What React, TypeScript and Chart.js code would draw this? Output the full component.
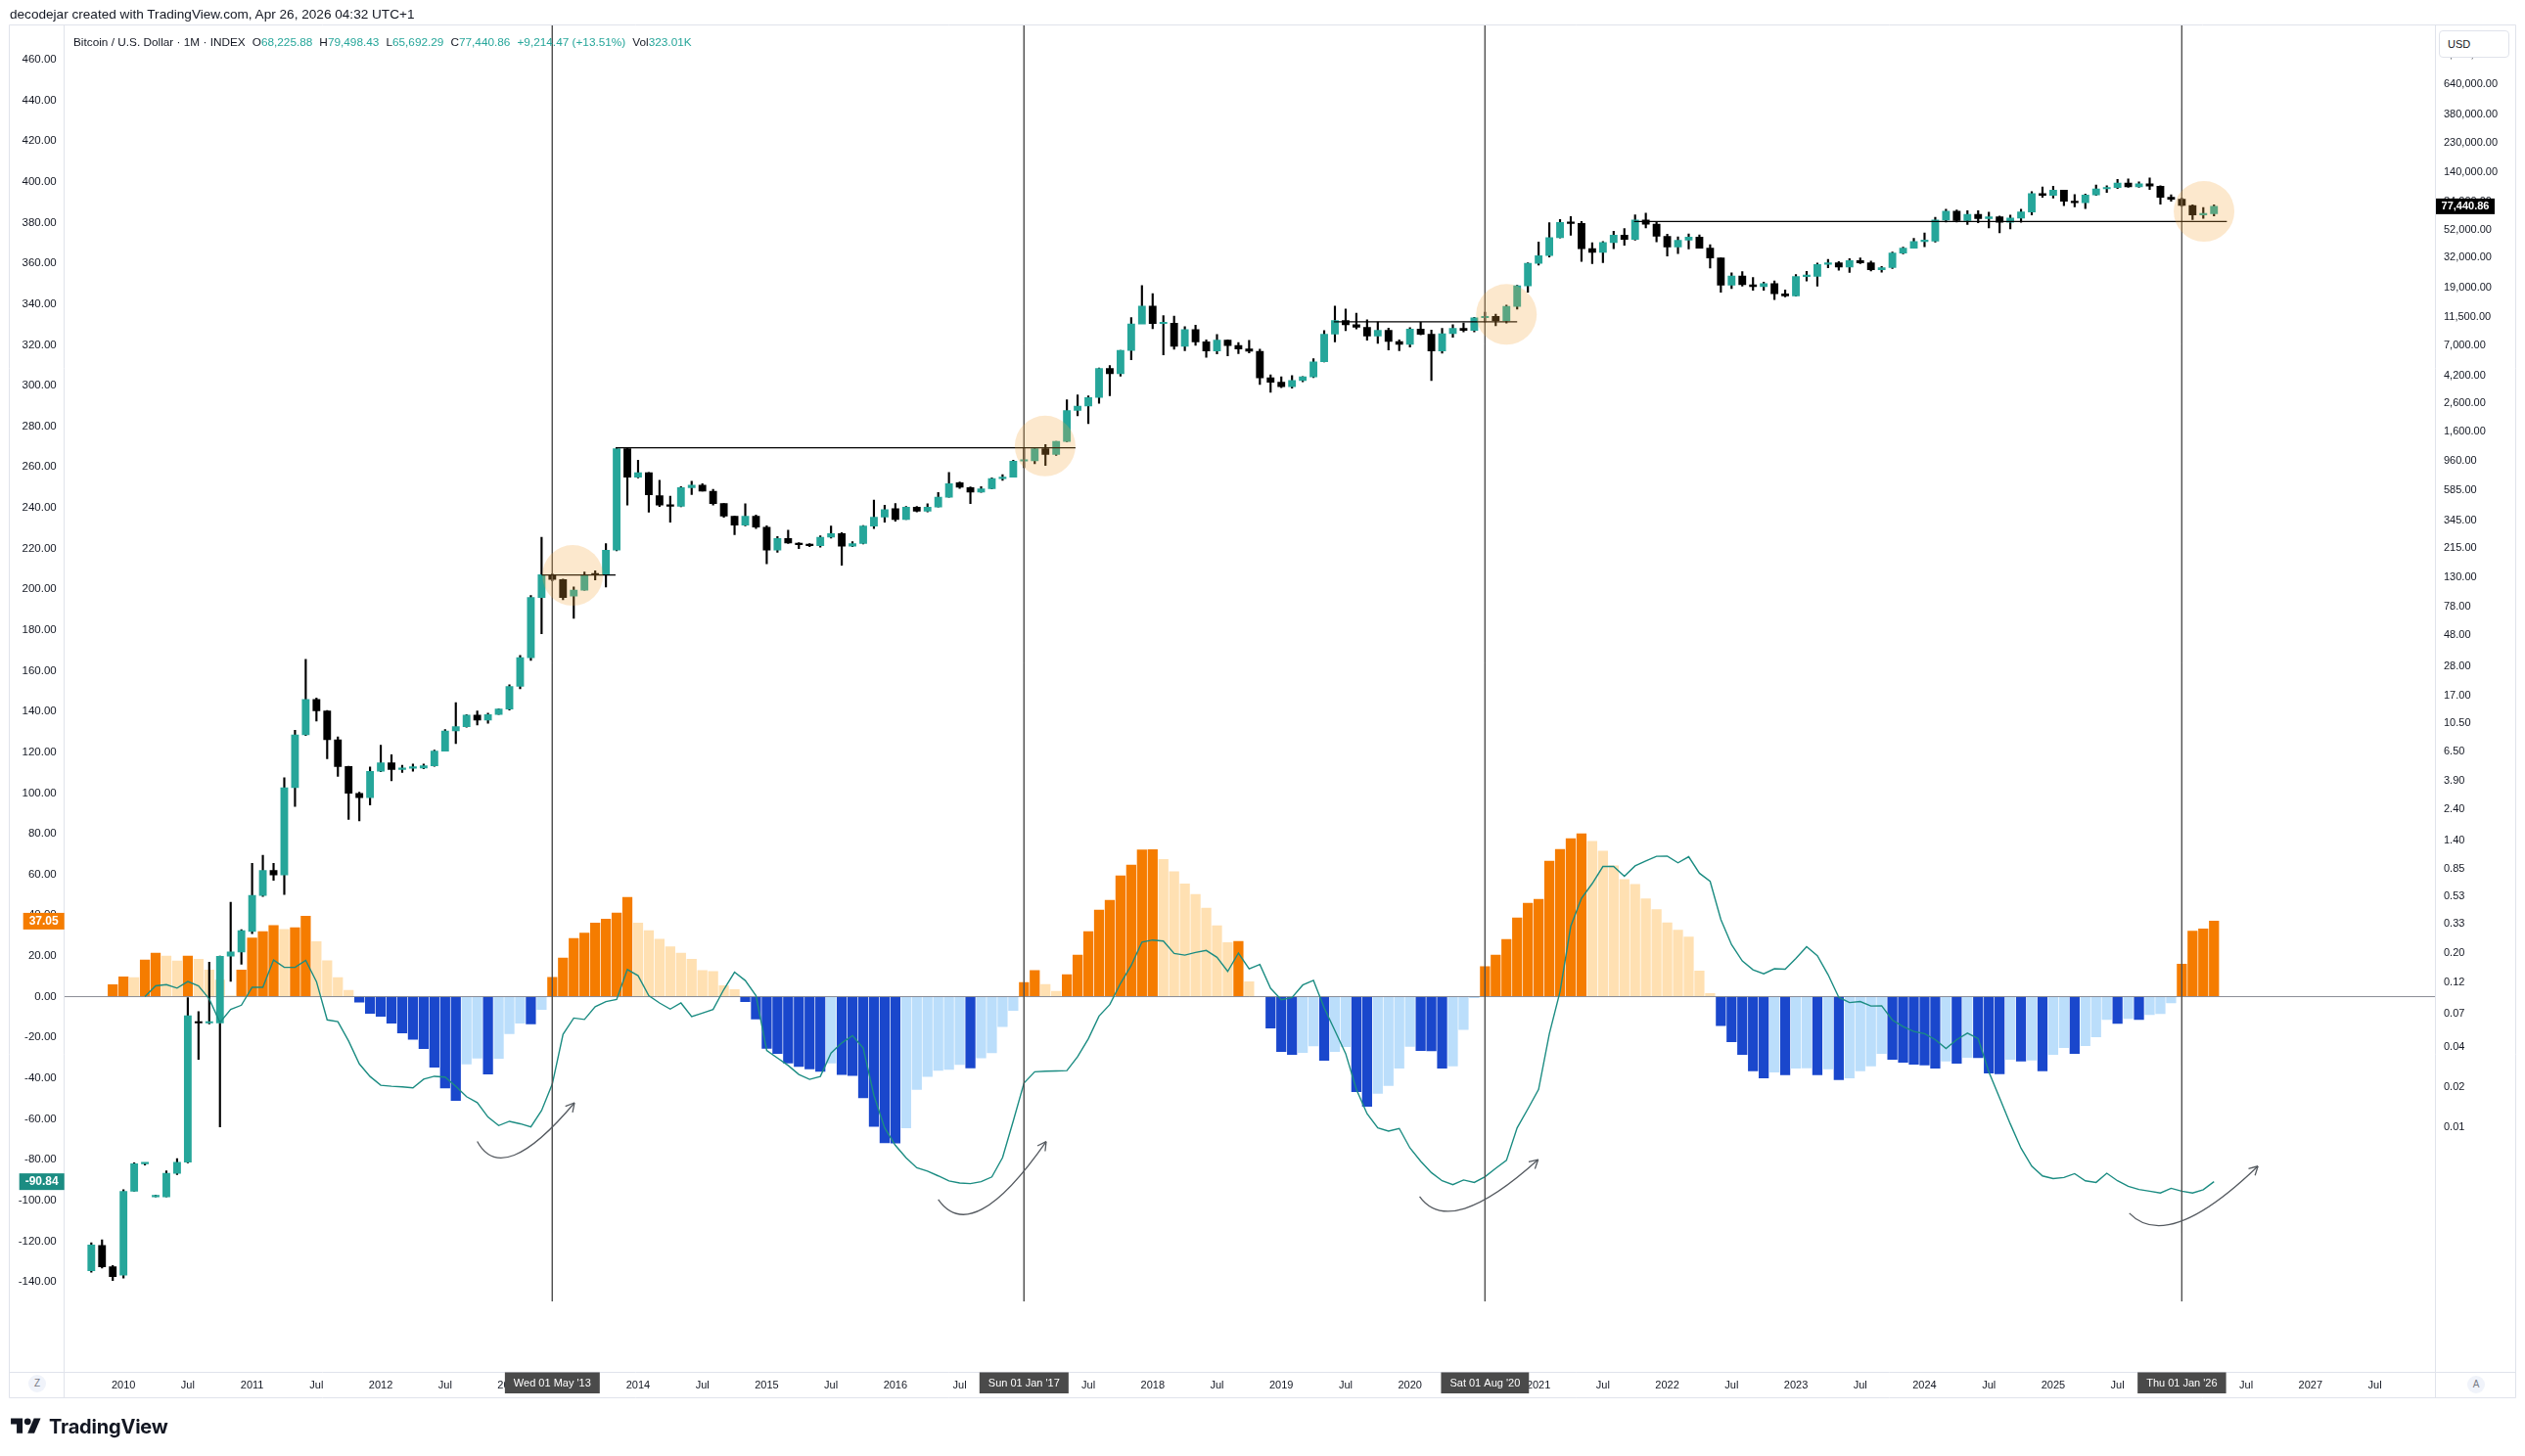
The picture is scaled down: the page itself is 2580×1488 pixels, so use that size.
import React, { useEffect, useRef } from "react";
import { Chart, registerables } from "chart.js";

Chart.register(...registerables);

const FONT = '"Liberation Sans", Arial, Helvetica, sans-serif';
const W = 2580;
const H = 1488;

// x values are months counted from Jan 2010 (0 = Jan 2010)
const CANDLE_START = -3; // Oct 2009

const opens = [
  0.00084, 0.0013, 0.0009,
  0.00078, 0.0033, 0.0053, 0.003, 0.003, 0.0045, 0.00545, 0.061, 0.06, 0.06, 0.19, 0.204,
  0.29, 0.54, 0.83, 0.77, 3.46, 8.6, 15.8, 13.0, 7.9, 4.98, 3.14, 2.92,
  4.59, 5.32, 4.73, 4.83, 4.85, 5.05, 6.5, 9.2, 9.9, 12.1, 11.1, 12.2,
  13.4, 19.8, 32.5, 91.6, 136, 125, 94, 104, 136, 135, 207, 1188,
  728, 787, 530, 450, 442, 608, 634, 572, 462, 372, 319, 372,
  308, 207, 253, 234, 228, 224, 259, 275, 222, 232, 314, 366,
  424, 351, 435, 406, 435, 516, 662, 608, 563, 597, 710, 728,
  960, 965, 1190, 1080, 1348, 2300, 2480, 2875, 4735, 4340, 6470, 10200,
  13860, 10270, 10330, 6930, 9250, 7500, 6400, 7730, 7030, 6630, 6370, 4040,
  3740, 3460, 3850, 4100, 5320, 8560, 10820, 10080, 9630, 8300, 9150, 7540,
  7190, 9350, 8540, 6410, 8630, 9450, 9140, 11350, 11650, 10780, 13800, 19700,
  29000, 33100, 45200, 58800, 57700, 37300, 35000, 41500, 47100, 43800, 61300, 57000,
  46200, 38500, 43200, 45500, 37700, 31800, 19900, 23300, 20050, 19400, 20500, 17150,
  16550, 23100, 23150, 28450, 29250, 27200, 30450, 29250, 25950, 26950, 34650, 37700,
  42250, 42580, 61150, 71300, 60650, 67500, 62700, 64600, 58950, 63300, 70200, 96400,
  93400, 102400, 84400, 82500, 94200, 104600, 107100, 115800, 108200, 114050, 109600, 90400,
  87500, 78600, 66900, 68225.88,
];

const highs = [
  0.00136, 0.00143, 0.00092,
  0.0034, 0.0054, 0.0054, 0.0031, 0.0047, 0.0058, 0.093, 0.073, 0.171, 0.19, 0.48, 0.3,
  0.94, 1.08, 0.94, 4.1, 9.3, 31.6, 16.2, 13.1, 8.3, 5.0, 3.2, 4.94,
  7.2, 6.1, 5.1, 5.2, 5.2, 6.6, 9.4, 15.0, 12.2, 13.0, 12.5, 13.5,
  20.4, 33.8, 95, 259, 138, 126, 110, 142, 145, 232, 1210, 1200,
  975, 790, 692, 525, 620, 680, 650, 590, 462, 372, 460, 380,
  315, 262, 292, 236, 232, 265, 314, 280, 240, 316, 490, 450,
  462, 440, 440, 460, 560, 790, 670, 615, 620, 720, 760, 975,
  1200, 1200, 1280, 1350, 2760, 3000, 2950, 4770, 4980, 6470, 11400, 19800,
  17200, 11800, 11700, 9750, 9990, 7760, 8500, 7760, 7400, 7680, 6600, 4240,
  4100, 4200, 4130, 5600, 9100, 13880, 13200, 12300, 10950, 10540, 9510, 7750,
  9580, 10500, 9190, 9460, 10080, 10400, 11450, 12480, 12070, 14100, 19900, 29300,
  41950, 58350, 61800, 64900, 59600, 41300, 42300, 50500, 52900, 67000, 69000, 59100,
  47900, 45800, 48200, 47400, 40000, 31900, 24600, 25200, 22700, 21000, 21450, 18350,
  23900, 25250, 29200, 31000, 29850, 31400, 31800, 30200, 27500, 35200, 38400, 44700,
  48970, 64000, 73800, 72800, 71950, 71950, 70000, 65600, 66500, 73600, 99800, 108300,
  109600, 102500, 95000, 95800, 111900, 110600, 123200, 124500, 117900, 126200, 110600, 94600,
  89500, 79500, 76000, 79498.43,
];

const lows = [
  0.00082, 0.00088, 0.00071,
  0.00074, 0.0033, 0.0052, 0.003, 0.003, 0.0044, 0.0054, 0.032, 0.059, 0.01, 0.123, 0.165,
  0.28, 0.53, 0.7, 0.55, 2.5, 8.5, 10.9, 5.7, 4.2, 2.0, 1.95, 2.57,
  4.55, 3.9, 4.5, 4.6, 4.8, 5.0, 6.5, 7.4, 9.8, 10.2, 10.5, 12.2,
  13.2, 19.0, 31, 49, 122, 88, 64, 104, 124, 110, 205, 450,
  720, 399, 440, 336, 437, 540, 572, 450, 365, 270, 315, 300,
  164, 200, 232, 213, 220, 218, 255, 160, 220, 230, 300, 336,
  341, 351, 400, 400, 435, 516, 600, 462, 560, 595, 690, 728,
  860, 920, 890, 1060, 1340, 2100, 1830, 2600, 2970, 4150, 5500, 10700,
  9400, 6000, 6600, 6450, 7050, 5750, 6100, 5880, 6120, 6200, 3600, 3150,
  3400, 3380, 3770, 4050, 5300, 7500, 9100, 9350, 7710, 7300, 6530, 6430,
  6870, 8450, 3850, 6160, 8110, 8900, 8900, 10530, 9880, 10370, 13200, 17600,
  28100, 32300, 45000, 47000, 30000, 28800, 29300, 37300, 39600, 43300, 53300, 42000,
  32900, 34300, 37200, 37600, 26700, 17600, 18800, 19600, 18200, 18200, 15500, 16300,
  16500, 21400, 19600, 26900, 25800, 24800, 28900, 25400, 24900, 26550, 34100, 37600,
  38550, 41900, 59000, 59200, 56550, 58400, 53500, 49000, 52550, 58900, 66800, 90500,
  89200, 78200, 76600, 74400, 93400, 98200, 105200, 107300, 107300, 103500, 80500, 84400,
  77500, 61500, 63000, 65692.29,
];

const closes = [
  0.00131, 0.0009, 0.00076,
  0.0033, 0.0053, 0.00535, 0.00306, 0.0045, 0.00545, 0.068, 0.06, 0.0605, 0.189, 0.204, 0.295,
  0.54, 0.83, 0.77, 3.46, 8.6, 15.8, 13.0, 7.9, 4.98, 3.14, 2.92, 4.59,
  5.32, 4.73, 4.83, 4.85, 5.05, 6.5, 9.2, 9.9, 12.1, 11.1, 12.2, 13.4,
  19.8, 32.5, 91.6, 136, 125, 91.6, 104, 136, 135, 207, 1188, 728,
  787, 538, 450, 442, 608, 634, 572, 462, 372, 319, 372, 308,
  207, 253, 234, 228, 224, 259, 275, 222, 232, 314, 366, 416,
  351, 435, 406, 435, 516, 652, 613, 563, 597, 710, 728, 960,
  965, 1190, 1080, 1348, 2300, 2480, 2875, 4735, 4340, 6470, 10200, 13860,
  10270, 10330, 6930, 9250, 7500, 6400, 7730, 7030, 6630, 6370, 4040, 3740,
  3460, 3850, 4100, 5320, 8560, 10820, 10080, 9630, 8300, 9150, 7540, 7190,
  9350, 8540, 6410, 8630, 9450, 9140, 11350, 11650, 10780, 13800, 19700, 29000,
  33100, 45200, 58800, 57700, 37300, 35000, 41500, 47100, 43800, 61300, 57000, 46200,
  38500, 43200, 45500, 37700, 31800, 19900, 23300, 20050, 19400, 20500, 17150, 16550,
  23100, 23150, 28450, 29250, 27200, 30450, 29250, 25950, 26950, 34650, 37700, 42250,
  42580, 61150, 71300, 60650, 67500, 62700, 64600, 58950, 63300, 70200, 96400, 93400,
  102400, 84400, 82500, 94200, 104600, 107100, 115800, 108200, 114050, 109600, 90400, 87500,
  78600, 66900, 68225.88, 77440.86,
];

// oscillator histogram, first bar Dec 2009
const HIST_START = -1;
const histogram = [
  5.9, 9.7, 9.3, 18.0, 21.4, 19.9, 17.5, 19.9, 18.4, 13.1, 8.2, 0.3, 13.1,
  28.8, 31.9, 34.9, 33.0, 33.8, 39.5, 27.0, 17.6, 9.4, 3.1, -2.7, -8.2,
  -9.7, -13.0, -17.8, -21.0, -25.5, -34.6, -44.8, -51.0, -33.1, -30.2, -38.0, -30.3,
  -18.2, -13.0, -13.4, -6.3, 9.5, 19.0, 28.6, 31.2, 36.1, 38.0, 41.0, 48.8,
  36.1, 32.4, 28.2, 24.5, 21.4, 18.4, 12.8, 12.3, 5.4, 3.5, -2.5, -11.0,
  -25.4, -27.9, -32.6, -34.3, -35.5, -36.7, -32.6, -38.2, -38.7, -49.7, -63.7, -71.8,
  -71.9, -64.4, -45.6, -39.2, -36.2, -35.7, -33.3, -35.0, -30.1, -27.6, -14.7, -6.8,
  7.0, 12.8, 6.0, 2.6, 10.8, 20.4, 31.9, 42.5, 47.3, 59.3, 64.6, 72.1,
  72.2, 67.3, 61.3, 55.3, 50.2, 43.5, 34.8, 26.5, 27.1, 7.3, 0, -15.4,
  -26.9, -28.4, -27.4, -24.2, -31.3, -26.9, -24.6, -46.7, -53.9, -47.5, -43.6, -35.1,
  -24.4, -26.5, -26.6, -35.1, -34.0, -16.2, -0.5, 14.7, 20.4, 28.1, 38.7, 45.9,
  47.8, 66.5, 72.3, 77.6, 80.0, 76.2, 71.4, 64.2, 57.5, 55.1, 48.0, 42.7,
  36.3, 32.7, 29.3, 12.6, 1.6, -14.2, -22.2, -28.4, -36.5, -39.9, -37.0, -38.4,
  -35.1, -35.0, -38.4, -35.5, -40.8, -39.9, -36.5, -34.1, -27.9, -30.8, -32.2, -33.2,
  -33.6, -35.1, -31.7, -32.7, -29.8, -30.0, -37.5, -37.9, -30.8, -31.7, -31.2, -36.5,
  -28.4, -25.0, -27.9, -24.1, -19.8, -11.2, -13.1, -10.7, -11.2, -8.8, -8.3, -3.0,
  15.9, 32.2, 33.2, 37.05,
];

// oscillator line, first point Mar 2010
const LINE_START = 2;
const signalLine = [
  0.0, 5.3, 5.9, 4.2, 7.4, 5.3, -1.1, -12.7, -6.3, -4.2,
  4.6, 4.6, 18.0, 14.4, 14.4, 17.8, 7.4, -11.4, -12.3, -21.8, -33.0, -39.2,
  -43.5, -44.0, -44.3, -44.8, -40.5, -39.1, -39.5, -44.0, -49.1, -52.0, -59.1, -63.3,
  -61.2, -62.4, -63.9, -55.9, -42.9, -18.5, -10.5, -11.2, -4.9, -2.4, -1.4, 13.3,
  10.3, 0.5, -3.1, -6.1, -3.1, -9.8, -8.1, -6.3, 3.5, 12.0, 7.9, 0.5,
  -26.4, -30.1, -33.8, -38.2, -40.6, -39.2, -27.7, -22.7, -19.1, -25.2, -48.5, -64.4,
  -73.0, -79.1, -84.0, -85.7, -88.0, -90.5, -91.5, -91.8, -90.8, -88.5, -79.0, -61.0,
  -42.4, -36.9, -36.6, -36.5, -36.3, -29.5, -20.7, -9.5, -3.9, 6.5, 15.3, 26.8,
  27.8, 27.3, 21.2, 20.4, 21.7, 22.7, 19.3, 12.4, 21.4, 13.7, 15.8, 4.1,
  -1.5, -0.4, 5.7, 8.0, -5.5, -16.7, -27.9, -45.5, -57.5, -64.4, -66.0, -64.7,
  -74.3, -80.8, -86.4, -90.4, -92.3, -90.0, -91.2, -88.4, -84.3, -80.4, -64.4, -55.1,
  -45.5, -18.3, 2.5, 34.6, 48.3, 55.5, 63.9, 63.9, 59.1, 64.2, 66.6, 68.9,
  69.0, 65.7, 68.7, 60.6, 56.6, 37.9, 25.5, 17.5, 13.2, 11.2, 13.7, 13.5,
  18.8, 24.5, 20.1, 10.8, -0.3, -2.9, -2.4, -4.6, -4.5, -11.5, -14.7, -17.1,
  -18.2, -21.1, -25.5, -21.1, -17.9, -20.6, -37.0, -49.7, -62.5, -74.4, -83.2, -88.0,
  -89.3, -88.8, -86.9, -90.4, -91.2, -86.7, -90.4, -93.1, -94.7, -95.5, -96.4, -94.1,
  -95.5, -96.4, -94.8, -90.84,
];

// axes
const X_MIN = -5.52;
const X_MAX = 215.61;
const OSC_MIN = -184.2;
const OSC_MAX = 476.8;
const PRICE_MIN = 0.0001472;
const PRICE_MAX = 1748000;

const leftTicks = [-140, -120, -100, -80, -60, -40, -20, 0, 20, 40, 60, 80, 100, 120, 140, 160, 180, 200, 220, 240, 260, 280, 300, 320, 340, 360, 380, 400, 420, 440, 460];
const rightTicks = [1050000, 640000, 380000, 230000, 140000, 84000, 52000, 32000, 19000, 11500, 7000, 4200, 2600, 1600, 960, 585, 345, 215, 130, 78, 48, 28, 17, 10.5, 6.5, 3.9, 2.4, 1.4, 0.85, 0.53, 0.33, 0.2, 0.12, 0.07, 0.04, 0.02, 0.01];
const timeLabels = ["2010", "Jul", "2011", "Jul", "2012", "Jul", "2013", "Jul", "2014", "Jul", "2015", "Jul", "2016", "Jul", "2017", "Jul", "2018", "Jul", "2019", "Jul", "2020", "Jul", "2021", "Jul", "2022", "Jul", "2023", "Jul", "2024", "Jul", "2025", "Jul", "2026", "Jul", "2027", "Jul"];
const TIME_STEP = 6;

// drawings
const markerMonths = [40, 84, 127, 192];
const markerLabels = ["Wed 01 May '13", "Sun 01 Jan '17", "Sat 01 Aug '20", "Thu 01 Jan '26"];
const MARKER_BOTTOM = -149.6;

const levelFrom = [39.0, 45.9, 112.9, 140.9];
const levelTo = [45.9, 88.8, 130.0, 196.2];
const levelPrice = [135, 1208, 10600, 59700];

const circleMonth = [41.9, 85.97, 129.0, 194.07];
const circlePrice = [134, 1246, 12020, 71000];

const arrowStart = [[33.0, -71.1], [76.0, -99.6], [120.9, -98.1], [187.1, -106.3]];
const arrowMid = [[36.45, -77.8], [80.1, -104.3], [125.1, -104.0], [191.9, -110.3]];
const arrowEnd = [[42.07, -52.1], [86.07, -71.1], [131.96, -80.0], [199.1, -83.2]];

const UP = "#26a69a";
const DOWN = "#000000";
const LINE_COLOR = "#1b8c82";
const ORANGE = "#f57c00";
const ORANGE_LIGHT = "#ffe0b2";
const BLUE = "#1a47cc";
const BLUE_LIGHT = "#bbdefb";
const FRAME = "#e0e3eb";

function fmtPrice(v: number) {
  return v.toLocaleString("en-US", { minimumFractionDigits: 2, maximumFractionDigits: 2 });
}

const overlayPlugin = {
  id: "overlay",
  afterDatasetsDraw(chart: any) {
    const ctx = chart.ctx;
    const xs = chart.scales.x;
    const ys = chart.scales.y;
    const yp = chart.scales.yP;
    const area = chart.chartArea;
    ctx.save();
    ctx.beginPath();
    ctx.rect(area.left, area.top, area.right - area.left, area.bottom - area.top);
    ctx.clip();
    // circles
    ctx.fillStyle = "rgba(245,166,60,0.26)";
    circleMonth.forEach((m, i) => {
      const cx = xs.getPixelForValue(m);
      const cy = yp.getPixelForValue(circlePrice[i]);
      ctx.beginPath();
      ctx.arc(cx, cy, 31, 0, Math.PI * 2);
      ctx.fill();
    });
    // curved arrows
    ctx.strokeStyle = "#555a60";
    ctx.lineWidth = 1.3;
    arrowStart.forEach((s, i) => {
      const S = [xs.getPixelForValue(s[0]), ys.getPixelForValue(s[1])];
      const B = [xs.getPixelForValue(arrowMid[i][0]), ys.getPixelForValue(arrowMid[i][1])];
      const E = [xs.getPixelForValue(arrowEnd[i][0]), ys.getPixelForValue(arrowEnd[i][1])];
      const C = [2 * B[0] - (S[0] + E[0]) / 2, 2 * B[1] - (S[1] + E[1]) / 2];
      ctx.beginPath();
      ctx.moveTo(S[0], S[1]);
      ctx.quadraticCurveTo(C[0], C[1], E[0], E[1]);
      ctx.stroke();
      const ang = Math.atan2(E[1] - C[1], E[0] - C[0]);
      ctx.beginPath();
      [-0.5, 0.5].forEach((d) => {
        ctx.moveTo(E[0], E[1]);
        ctx.lineTo(E[0] - 10 * Math.cos(ang + d), E[1] - 10 * Math.sin(ang + d));
      });
      ctx.stroke();
    });
    ctx.restore();
  },
  afterDraw(chart: any) {
    const ctx = chart.ctx;
    const xs = chart.scales.x;
    const ys = chart.scales.y;
    const yp = chart.scales.yP;
    const area = chart.chartArea;
    ctx.save();
    // frame
    ctx.strokeStyle = FRAME;
    ctx.lineWidth = 1;
    ctx.beginPath();
    const L = 9.5, R = 2570.5, T = area.top - 0.5, B = 1428.5;
    ctx.moveTo(L, T); ctx.lineTo(R, T);
    ctx.moveTo(L, B); ctx.lineTo(R, B);
    ctx.moveTo(L, T); ctx.lineTo(L, B);
    ctx.moveTo(R, T); ctx.lineTo(R, B);
    ctx.moveTo(Math.round(area.left) - 0.5, T); ctx.lineTo(Math.round(area.left) - 0.5, B);
    ctx.moveTo(Math.round(area.right) + 0.5, T); ctx.lineTo(Math.round(area.right) + 0.5, B);
    ctx.moveTo(L, Math.round(area.bottom) + 0.5); ctx.lineTo(R, Math.round(area.bottom) + 0.5);
    ctx.stroke();

    // last price label (right)
    const lastClose = closes[closes.length - 1];
    const py = yp.getPixelForValue(lastClose);
    ctx.fillStyle = "#000000";
    ctx.fillRect(area.right + 1, py - 8, 60, 16);
    ctx.fillStyle = "#ffffff";
    ctx.font = "bold 11px " + FONT;
    ctx.textAlign = "center";
    ctx.textBaseline = "middle";
    ctx.fillText(fmtPrice(lastClose), area.right + 31, py + 0.5);

    // oscillator labels (left)
    const lastHist = histogram[histogram.length - 1];
    const lastLine = signalLine[signalLine.length - 1];
    const labels = [
      { v: lastHist, color: ORANGE, text: lastHist.toFixed(2) },
      { v: lastLine, color: LINE_COLOR, text: lastLine.toFixed(2) },
    ];
    labels.forEach((lb) => {
      const y = ys.getPixelForValue(lb.v);
      ctx.font = "bold 12px " + FONT;
      const tw = ctx.measureText(lb.text).width;
      const w = tw + 12;
      ctx.fillStyle = lb.color;
      ctx.fillRect(area.left - w, y - 8.5, w, 17);
      ctx.fillStyle = "#ffffff";
      ctx.textAlign = "center";
      ctx.fillText(lb.text, area.left - w / 2, y + 0.5);
    });

    // date markers on time axis
    ctx.font = "11px " + FONT;
    markerMonths.forEach((m, i) => {
      const x = xs.getPixelForValue(m);
      const tw = ctx.measureText(markerLabels[i]).width;
      const w = tw + 18;
      ctx.fillStyle = "#4a4a4a";
      ctx.fillRect(x - w / 2, area.bottom + 0.5, w, 21.5);
      ctx.fillStyle = "#ffffff";
      ctx.textAlign = "center";
      ctx.textBaseline = "middle";
      ctx.fillText(markerLabels[i], x, area.bottom + 11.5);
    });
    ctx.restore();
  },
};

export default function App() {
  const canvasRef = useRef<HTMLCanvasElement | null>(null);

  useEffect(() => {
    const months = opens.map((_, i) => CANDLE_START + i);
    const wickData = months.map((m, i) => ({ x: m, y: [lows[i], highs[i]] }));
    const bodyData = months.map((m, i) => ({
      x: m,
      y: [Math.min(opens[i], closes[i]), Math.max(opens[i], closes[i])],
    }));
    const bodyColors = months.map((_, i) => (closes[i] >= opens[i] ? UP : DOWN));
    const histData = histogram.map((v, i) => ({ x: HIST_START + i, y: v }));
    const histColors = histogram.map((v, i) => {
      const prev = i > 0 ? histogram[i - 1] : 0;
      if (v >= 0) return v >= prev ? ORANGE : ORANGE_LIGHT;
      return v <= prev ? BLUE : BLUE_LIGHT;
    });
    const lineData = signalLine.map((v, i) => ({ x: LINE_START + i, y: v }));
    const timeTickValues = timeLabels.map((_, i) => i * TIME_STEP);

    const levelSets = levelPrice.map((p, i) => ({
      type: "line",
      data: [{ x: levelFrom[i], y: p }, { x: levelTo[i], y: p }],
      yAxisID: "yP",
      borderColor: "#000000",
      borderWidth: 1.3,
      pointRadius: 0,
      order: 2,
    }));
    const markerSets = markerMonths.map((m) => ({
      type: "line",
      data: [{ x: m, y: OSC_MAX + 10 }, { x: m, y: MARKER_BOTTOM }],
      yAxisID: "y",
      borderColor: "#505050",
      borderWidth: 1,
      pointRadius: 0,
      order: 3,
    }));

    const chart = new Chart(canvasRef.current as HTMLCanvasElement, {
      type: "bar",
      data: {
        datasets: [
          {
            type: "bar",
            data: histData,
            yAxisID: "y",
            backgroundColor: histColors,
            borderWidth: 0,
            barThickness: 9.6,
            grouped: false,
            order: 9,
          },
          {
            type: "line",
            data: [{ x: X_MIN, y: 0 }, { x: X_MAX, y: 0 }],
            yAxisID: "y",
            borderColor: "#8a8d96",
            borderWidth: 1,
            pointRadius: 0,
            order: 8,
          },
          {
            type: "bar",
            data: wickData,
            yAxisID: "yP",
            backgroundColor: "#000000",
            borderWidth: 0,
            barThickness: 1.5,
            grouped: false,
            order: 7,
          },
          {
            type: "bar",
            data: bodyData,
            yAxisID: "yP",
            backgroundColor: bodyColors,
            borderWidth: 0,
            barThickness: 7.2,
            minBarLength: 1.5,
            grouped: false,
            order: 6,
          },
          {
            type: "line",
            data: lineData,
            yAxisID: "y",
            borderColor: LINE_COLOR,
            borderWidth: 1.4,
            pointRadius: 0,
            tension: 0,
            order: 5,
          },
          ...markerSets,
          ...levelSets,
        ] as any,
      },
      options: {
        animation: false,
        responsive: true,
        maintainAspectRatio: false,
        events: [],
        layout: { padding: { left: 10, top: 26, right: 10, bottom: 60 } },
        plugins: { legend: { display: false }, tooltip: { enabled: false } },
        scales: {
          x: {
            type: "linear",
            min: X_MIN,
            max: X_MAX,
            offset: false,
            grid: { display: false, drawTicks: false },
            border: { display: false },
            afterBuildTicks: (ax: any) => {
              ax.ticks = timeTickValues.map((v) => ({ value: v }));
            },
            afterFit: (ax: any) => {
              ax.height = 26;
            },
            ticks: {
              autoSkip: false,
              maxRotation: 0,
              padding: 7,
              color: "#131722",
              font: { family: FONT, size: 11 },
              callback: (v: any) => {
                const idx = Math.round(Number(v) / TIME_STEP);
                return timeLabels[idx] ?? "";
              },
            },
          },
          y: {
            type: "linear",
            position: "left",
            min: OSC_MIN,
            max: OSC_MAX,
            grid: { display: false, drawTicks: false },
            border: { display: false },
            afterBuildTicks: (ax: any) => {
              ax.ticks = leftTicks.map((v) => ({ value: v }));
            },
            afterFit: (ax: any) => {
              ax.width = 55.7;
            },
            ticks: {
              autoSkip: false,
              padding: 8,
              color: "#131722",
              font: { family: FONT, size: 11.5 },
              callback: (v: any) => Number(v).toFixed(2),
            },
          },
          yP: {
            type: "logarithmic",
            position: "right",
            min: PRICE_MIN,
            max: PRICE_MAX,
            grid: { display: false, drawTicks: false },
            border: { display: false },
            afterBuildTicks: (ax: any) => {
              ax.ticks = rightTicks.map((v) => ({ value: v }));
            },
            afterFit: (ax: any) => {
              ax.width = 82;
            },
            ticks: {
              autoSkip: false,
              padding: 9,
              color: "#131722",
              font: { family: FONT, size: 11 },
              callback: (v: any) => fmtPrice(Number(v)),
            },
          },
        },
      } as any,
      plugins: [overlayPlugin],
    });
    return () => chart.destroy();
  }, []);

  const teal = { color: "#26a69a" };
  const gap = { marginLeft: 7 };

  return (
    <div
      style={{
        position: "fixed",
        left: 0,
        top: 0,
        width: W,
        height: H,
        background: "#ffffff",
        overflow: "hidden",
        fontFamily: FONT,
        color: "#131722",
      }}
    >
      <div style={{ position: "absolute", left: 0, top: 0, width: W, height: H }}>
        <canvas ref={canvasRef} />
      </div>

      <div style={{ position: "absolute", left: 10, top: 6, fontSize: 13.6, lineHeight: "18px", whiteSpace: "nowrap" }}>
        decodejar created with TradingView.com, Apr 26, 2026 04:32 UTC+1
      </div>

      <div style={{ position: "absolute", left: 75, top: 35, fontSize: 11.8, lineHeight: "16px", whiteSpace: "nowrap" }}>
        <span>Bitcoin / U.S. Dollar · 1M · INDEX</span>
        <span style={gap}>O</span><span style={teal}>68,225.88</span>
        <span style={gap}>H</span><span style={teal}>79,498.43</span>
        <span style={gap}>L</span><span style={teal}>65,692.29</span>
        <span style={gap}>C</span><span style={teal}>77,440.86</span>
        <span style={{ ...gap, ...teal }}>+9,214.47 (+13.51%)</span>
        <span style={gap}>Vol</span><span style={teal}>323.01K</span>
      </div>

      <div
        style={{
          position: "absolute",
          left: 2492,
          top: 31,
          width: 72,
          height: 28,
          background: "#ffffff",
          border: "1px solid #e0e3eb",
          borderRadius: 4,
          fontSize: 11,
          lineHeight: "26px",
          paddingLeft: 8,
          boxSizing: "border-box",
        }}
      >
        USD
      </div>

      <div
        style={{
          position: "absolute",
          left: 29,
          top: 1405,
          width: 18,
          height: 18,
          borderRadius: 9,
          background: "#f0f3fa",
          color: "#787b86",
          fontSize: 10,
          lineHeight: "18px",
          textAlign: "center",
        }}
      >
        Z
      </div>
      <div
        style={{
          position: "absolute",
          left: 2521,
          top: 1406,
          width: 18,
          height: 18,
          borderRadius: 9,
          background: "#f0f3fa",
          color: "#787b86",
          fontSize: 10,
          lineHeight: "18px",
          textAlign: "center",
        }}
      >
        A
      </div>

      <div style={{ position: "absolute", left: 11, top: 1444, display: "flex", alignItems: "center", height: 28 }}>
        <svg width="31" height="24" viewBox="0 0 36 28" style={{ display: "block" }}>
          <path d="M14 22H7V11H0V4h14v18z" fill="#131722" />
          <path d="M28 22h-8l7.5-18h8L28 22z" fill="#131722" />
          <circle cx="20" cy="8" r="4" fill="#131722" />
        </svg>
        <span style={{ marginLeft: 8, fontFamily: "Inter, " + FONT, fontWeight: 700, fontSize: 20, color: "#131722", letterSpacing: -0.2 }}>
          TradingView
        </span>
      </div>
    </div>
  );
}
